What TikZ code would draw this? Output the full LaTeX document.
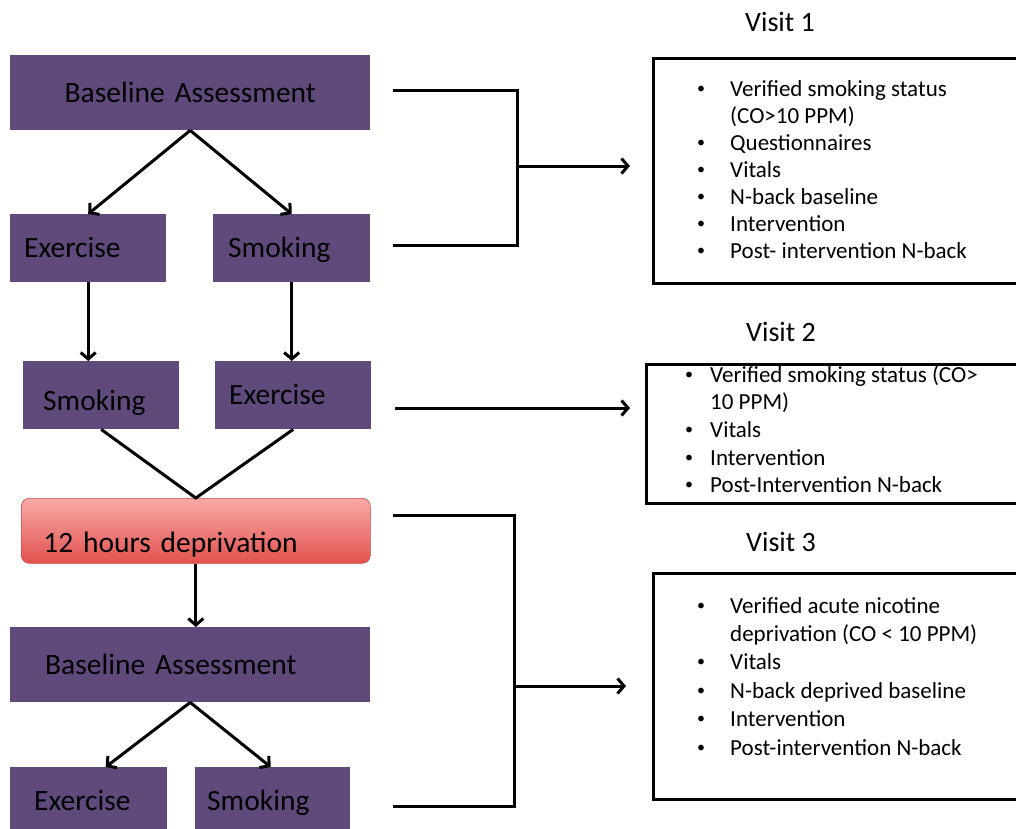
\documentclass[tikz,border=0pt]{standalone}
\usepackage{fontspec}
\setmainfont{Carlito}
\usetikzlibrary{arrows.meta,calc}
\definecolor{purp}{HTML}{5F4A7B}
\definecolor{redtop}{HTML}{F9AAA8}
\definecolor{redbot}{HTML}{E2524E}
\definecolor{redline}{HTML}{C94A46}
\newcommand{\bxfont}{\fontsize{29.5}{34}\selectfont}
\newcommand{\lsfont}{\fontsize{23}{27}\selectfont}
\newcommand{\bul}{\raisebox{3pt}{\fontsize{16}{16}\selectfont\textbullet}}
\begin{document}
\begin{tikzpicture}[x=1pt,y=-1pt,
  pbox/.style={fill=purp, draw=none, anchor=north west, inner ysep=0pt,
    font=\bxfont, text height=18.9pt, text depth=0pt, align=left},
  rbox/.style={draw=black, line width=3pt, anchor=north west, inner sep=0pt},
  title/.style={anchor=base west, font=\fontsize{28}{34}\selectfont, inner sep=0pt},
  lst/.style={anchor=base west, inner sep=0pt},
  conn/.style={line width=3pt, line join=miter},
  arr/.style={conn, -{Straight Barb[length=6.5pt,width=15pt]}}]
\useasboundingbox (0,0) rectangle (1016,828);
\clip (0,0) rectangle (1016,828);
\fill[white] (0,0) rectangle (1016,828);

% left flow boxes
\node[pbox, minimum width=360pt, minimum height=75pt, text width=330pt, inner xsep=15pt, align=center] (ba1) at (10,55) {Baseline Assessment};
\node[pbox, minimum width=156pt, minimum height=68pt, text width=128pt, inner xsep=14pt] (ex1) at (10,214) {Exercise};
\node[pbox, minimum width=157pt, minimum height=68pt, text width=127pt, inner xsep=15pt] (sm1) at (213,214) {Smoking};
\node[pbox, minimum width=156pt, minimum height=68pt, text width=116pt, inner xsep=20pt] (sm2) at (23,361) {\raisebox{-5.5pt}{Smoking}};
\node[pbox, minimum width=156pt, minimum height=68pt, text width=128pt, inner xsep=14pt] (ex2) at (215,361) {Exercise};
\node[pbox, fill=none, top color=redtop, bottom color=redbot, draw=redline, line width=0.6pt, rounded corners=8pt,
      minimum width=349pt, minimum height=65pt, text width=305pt, inner xsep=22pt] (dep) at (21,498) {\raisebox{-12.5pt}{12 hours deprivation}};
\node[pbox, minimum width=360pt, minimum height=75pt, text width=290pt, inner xsep=35pt] (ba2) at (10,627) {Baseline Assessment};
\node[pbox, minimum width=157pt, minimum height=68pt, text width=109pt, inner xsep=24pt] (ex3) at (10,767) {Exercise};
\node[pbox, minimum width=155pt, minimum height=68pt, text width=131pt, inner xsep=12pt] (sm3) at (195,767) {Smoking};

% left flow connectors
\draw[arr] (ba1.south) -- (ex1.north);
\draw[arr] (ba1.south) -- (sm1.north);
\draw[arr] (ex1.south) -- (ex1.south |- sm2.north);
\draw[arr] (sm1.south) -- (sm1.south |- ex2.north);
\draw[conn] (sm2.south) -- (dep.north) -- (ex2.south);
\draw[arr] (dep.south) -- (dep.south |- ba2.north);
\draw[arr] (ba2.south) -- ($(ex3.north)+(17,0)$);
\draw[arr] (ba2.south) -- ($(sm3.north)+(-2,0)$);

% right boxes
\node[title] (t1) at (745,31.7) {Visit 1};
\node[rbox, minimum width=378pt, minimum height=225pt] (v1) at (652,57) {};
\node[lst] (l1) at (697,96.7) {\lsfont\begin{tabular}[t]{@{}p{33pt}@{}l@{}}
\bul & Verified smoking status\\
 & (CO>10 PPM)\\
\bul & Questionnaires\\
\bul & Vitals\\
\bul & N-back baseline\\
\bul & Intervention\\
\bul & Post- intervention N-back
\end{tabular}};

\node[title] (t2) at (746,341.7) {Visit 2};
\node[rbox, minimum width=385pt, minimum height=139pt] (v2) at (645,363) {};
\node[lst] (l2) at (685,382) {\fontsize{23}{27.7}\selectfont\begin{tabular}[t]{@{}p{25pt}@{}l@{}}
\bul & Verified smoking status (CO>\\
 & 10 PPM)\\
\bul & Vitals\\
\bul & Intervention\\
\bul & Post-Intervention N-back
\end{tabular}};

\node[title] (t3) at (746,551.7) {Visit 3};
\node[rbox, minimum width=378pt, minimum height=226pt] (v3) at (652,572) {};
\node[lst] (l3) at (697,613) {\fontsize{23}{28.4}\selectfont\begin{tabular}[t]{@{}p{33pt}@{}l@{}}
\bul & Verified acute nicotine\\
 & deprivation (CO < 10 PPM)\\
\bul & Vitals\\
\bul & N-back deprived baseline\\
\bul & Intervention\\
\bul & Post-intervention N-back
\end{tabular}};

% brackets and arrows to the visit boxes
\coordinate (b1t) at (393,90);
\coordinate (b1b) at (393,245);
\coordinate (b1m) at (517,166);
\draw[conn] (b1t) -- (b1t -| b1m) -- (b1b -| b1m) -- (b1b);
\draw[arr, shorten >=22pt] (b1m) -- (b1m -| v1.west);

\coordinate (a2s) at (395,408);
\draw[arr, shorten >=15pt] (a2s) -- (a2s -| v2.west);

\coordinate (b3t) at (393,515);
\coordinate (b3b) at (393,806);
\coordinate (b3m) at (514,686);
\draw[conn] (b3t) -- (b3t -| b3m) -- (b3b -| b3m) -- (b3b);
\draw[arr, shorten >=26pt] (b3m) -- (b3m -| v3.west);
\end{tikzpicture}
\end{document}
